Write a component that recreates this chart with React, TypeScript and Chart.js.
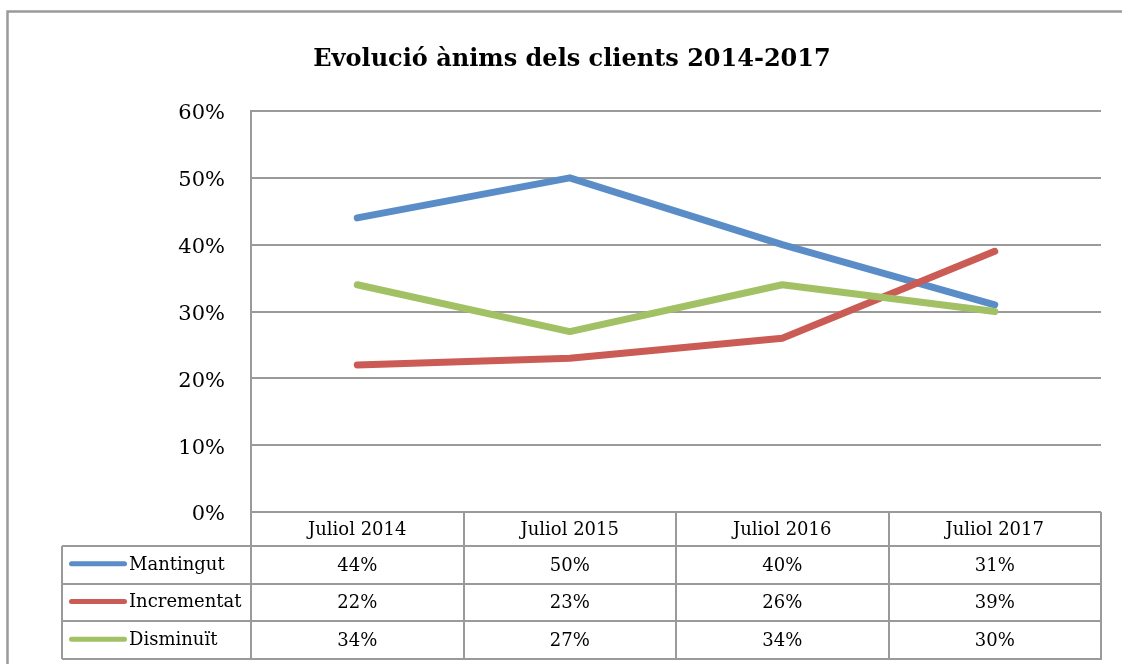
import React, { useEffect, useRef } from "react";
import { Chart, registerables } from "chart.js";

Chart.register(...registerables);

const TITLE = "Evolució ànims dels clients 2014-2017";
const categories = ["Juliol 2014", "Juliol 2015", "Juliol 2016", "Juliol 2017"];
const seriesNames = ["Mantingut", "Incrementat", "Disminuït"];
const mantingut = [0.44, 0.5, 0.4, 0.31];
const incrementat = [0.22, 0.23, 0.26, 0.39];
const disminuit = [0.34, 0.27, 0.34, 0.3];
const seriesColors = ["#5A8DC8", "#CB5B55", "#A2C164"];
const yTicks = [0, 0.1, 0.2, 0.3, 0.4, 0.5, 0.6];

const FONT = "'DejaVu Serif', 'Liberation Serif', serif";
const GRID = "#9a9a9a";

const pct = (v: number) => Math.round(v * 100) + "%";

const tablePlugin = {
  id: "excelTable",
  afterDraw(chart: any) {
    const ctx = chart.ctx as CanvasRenderingContext2D;
    const area = chart.chartArea;
    const xs = chart.scales.x;
    const n = categories.length;
    const colW = (area.right - area.left) / n;
    const headerTop = area.bottom;
    const headerBottom = headerTop + 34;
    const rowH = 37.7;
    const tableLeft = 62;
    const allData = [mantingut, incrementat, disminuit];

    ctx.save();
    // outer border
    ctx.strokeStyle = GRID;
    ctx.lineWidth = 2.5;
    ctx.beginPath();
    ctx.moveTo(7.5, 700);
    ctx.lineTo(7.5, 11.5);
    ctx.lineTo(1130, 11.5);
    ctx.stroke();

    // title
    ctx.fillStyle = "#000";
    ctx.font = "bold 24px " + FONT;
    ctx.textAlign = "center";
    ctx.textBaseline = "alphabetic";
    ctx.fillText(TITLE, 572, 66);

    // table lines
    ctx.strokeStyle = GRID;
    ctx.lineWidth = 2;
    ctx.beginPath();
    ctx.moveTo(area.left, headerTop);
    ctx.lineTo(area.left, headerBottom);
    ctx.moveTo(area.right, headerTop);
    ctx.lineTo(area.right, headerBottom + rowH * 3);
    for (let i = 1; i < n; i++) {
      const x = Math.round(area.left + colW * i);
      ctx.moveTo(x, headerTop);
      ctx.lineTo(x, headerBottom + rowH * 3);
    }
    ctx.moveTo(area.left, headerBottom + rowH * 3);
    ctx.lineTo(area.left, headerBottom);
    for (let r = 0; r <= 3; r++) {
      const y = Math.round(headerBottom + rowH * r);
      ctx.moveTo(tableLeft, y);
      ctx.lineTo(area.right + 1, y);
    }
    ctx.moveTo(tableLeft, headerBottom);
    ctx.lineTo(tableLeft, headerBottom + rowH * 3);
    ctx.stroke();

    // header text
    ctx.fillStyle = "#000";
    ctx.font = "18px " + FONT;
    ctx.textAlign = "center";
    ctx.textBaseline = "middle";
    categories.forEach((c, i) => {
      ctx.fillText(c, xs.getPixelForValue(i), (headerTop + headerBottom) / 2 + 1);
    });

    // rows
    seriesNames.forEach((name, r) => {
      const cy = headerBottom + rowH * r + rowH / 2;
      ctx.strokeStyle = seriesColors[r];
      ctx.lineWidth = 5;
      ctx.lineCap = "round";
      ctx.beginPath();
      ctx.moveTo(71.5, cy - 1);
      ctx.lineTo(124.5, cy - 1);
      ctx.stroke();
      ctx.fillStyle = "#000";
      ctx.textAlign = "left";
      ctx.fillText(name, 129, cy);
      ctx.textAlign = "center";
      allData[r].forEach((v, i) => {
        ctx.fillText(pct(v), xs.getPixelForValue(i), cy + 1);
      });
    });
    ctx.restore();
  },
};

export default function App() {
  const ref = useRef<HTMLCanvasElement | null>(null);
  useEffect(() => {
    document.body.style.margin = "0";
    const canvas = ref.current!;
    const mk = (label: string, data: number[], color: string, order: number) => ({
      label,
      data,
      borderColor: color,
      backgroundColor: color,
      borderWidth: 7,
      borderCapStyle: "round" as const,
      borderJoinStyle: "round" as const,
      pointRadius: 0,
      tension: 0,
      fill: false,
      order,
    });
    const chart = new Chart(canvas, {
      type: "line",
      data: {
        labels: categories,
        datasets: [
          mk(seriesNames[0], mantingut, seriesColors[0], 2),
          mk(seriesNames[1], incrementat, seriesColors[1], 1),
          mk(seriesNames[2], disminuit, seriesColors[2], 0),
        ],
      },
      options: {
        responsive: false,
        animation: false,
        devicePixelRatio: 1,
        layout: { padding: { top: 111, right: 21, bottom: 152, left: 0 } },
        plugins: {
          legend: { display: false },
          title: { display: false },
          tooltip: { enabled: false },
        },
        scales: {
          x: {
            display: false,
            offset: true,
          },
          y: {
            min: 0,
            max: 0.6,
            afterFit: (scale: any) => {
              scale.width = 251;
            },
            afterBuildTicks: (scale: any) => {
              scale.ticks = yTicks.map((v) => ({ value: v }));
            },
            grid: { color: GRID, lineWidth: 2, drawTicks: false },
            border: { display: true, color: GRID, width: 2 },
            ticks: {
              padding: 26,
              labelOffset: 3,
              color: "#000",
              font: { family: FONT, size: 21 },
              callback: (v: any) => pct(Number(v)),
            },
          },
        },
      },
      plugins: [tablePlugin],
    });
    return () => chart.destroy();
  }, []);
  return (
    <div style={{ position: "fixed", left: 0, top: 0, background: "#fff" }}>
      <canvas ref={ref} width={1122} height={664} style={{ display: "block" }} />
    </div>
  );
}
